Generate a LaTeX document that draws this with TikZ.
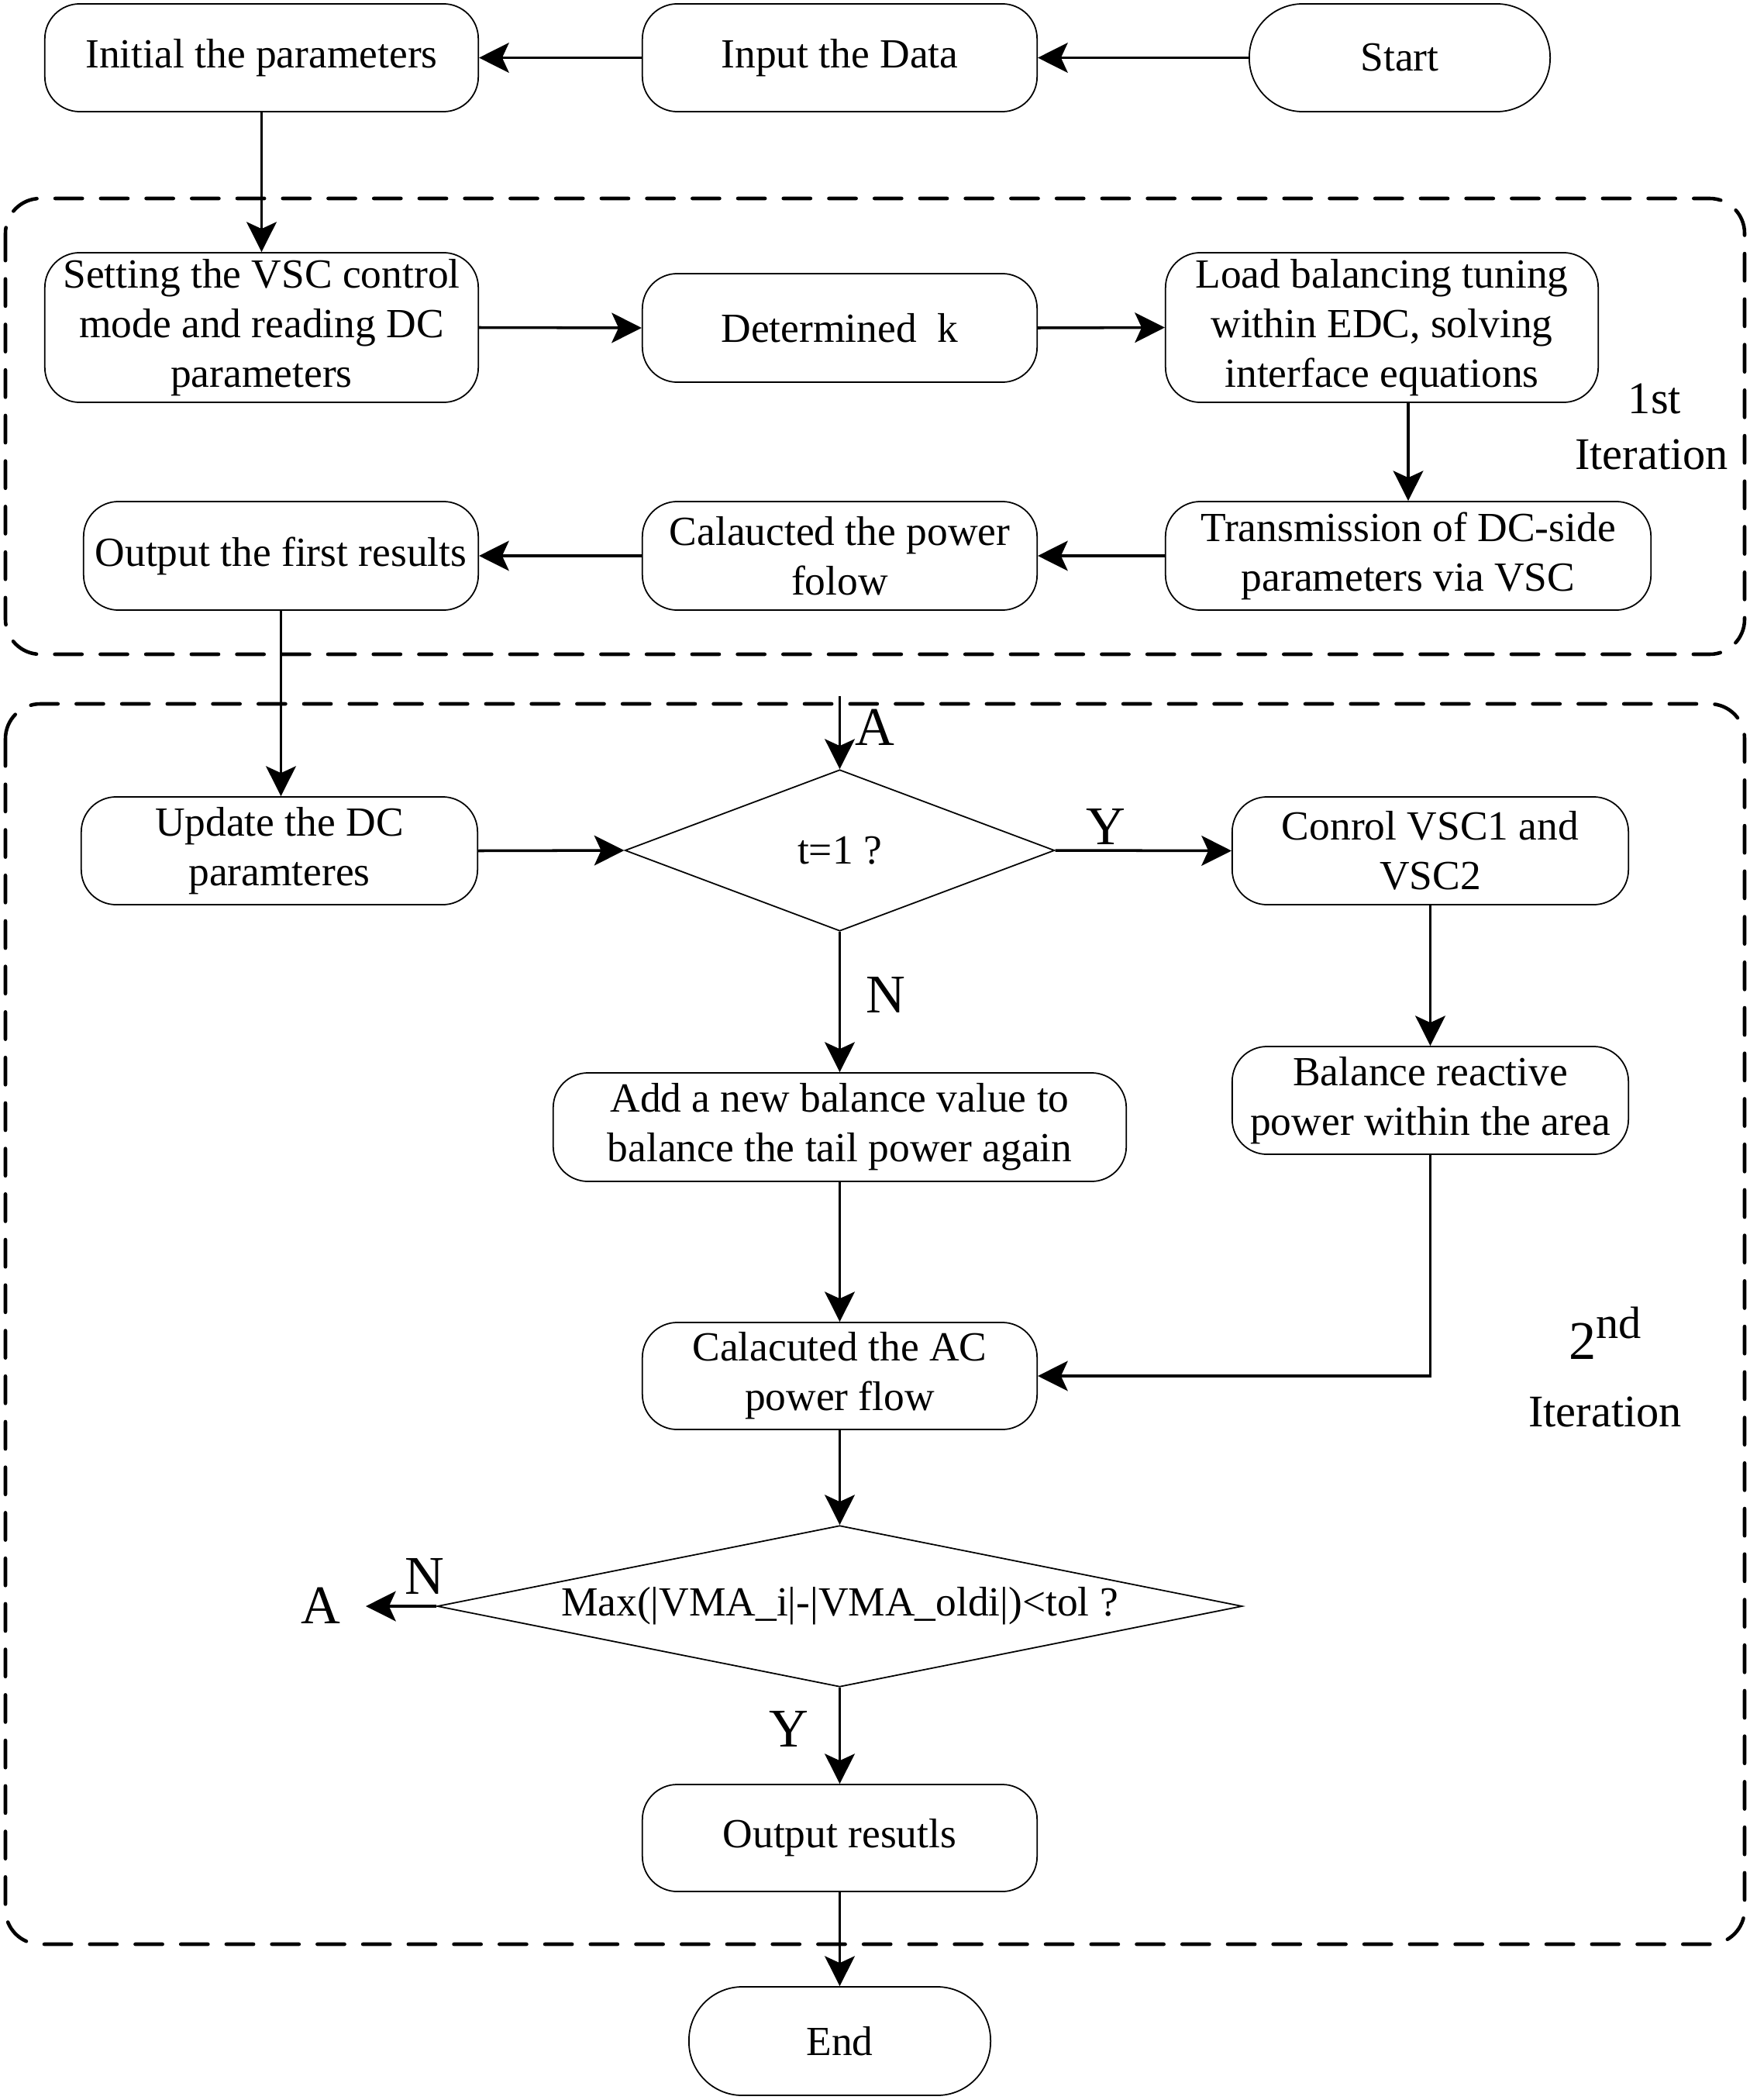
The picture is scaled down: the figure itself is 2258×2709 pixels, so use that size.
\documentclass[tikz,border=0pt]{standalone}
\usepackage{fontspec}
\setmainfont{Liberation Serif}
\usetikzlibrary{arrows.meta,shapes.geometric}
\newcommand\bodyfnt{\fontsize{15.2}{18.2}\selectfont}
\newcommand\labfnt{\fontsize{20}{24}\selectfont}
\newcommand\itfnt{\fontsize{16.6}{20}\selectfont}
\begin{document}
\begin{tikzpicture}[x=0.01cm,y=-0.01cm,
  box/.style={draw, line width=0.5pt, rounded corners=0.45cm, align=center, inner sep=0pt, font=\bodyfnt},
  term/.style={box, rounded corners=0.69cm},
  dec/.style={draw, diamond, line width=0.5pt, inner sep=0pt, align=center, font=\bodyfnt},
  arr/.style={line width=1pt, -{Stealth[length=11pt,width=11pt,inset=2.5pt]}},
  grp/.style={line width=1.3pt, dash pattern=on 10pt off 6.7pt, line cap=round, rounded corners=0.45cm},
  lab/.style={font=\labfnt, inner sep=0pt},
  itl/.style={font=\itfnt, inner sep=0pt}]
\useasboundingbox (0,0) rectangle (2258,2709);

% group frames
\draw[grp] (7,256) rectangle (2251,844);
\draw[grp] (7,908) rectangle (2251,2508);

% row 1
\node[box, minimum width=5.59cm, minimum height=1.39cm] (init) at (337.5,74.5) {Initial the parameters};
\node[box, minimum width=5.09cm, minimum height=1.39cm] (input) at (1083.5,74.5) {Input the Data};
\node[term, minimum width=3.88cm, minimum height=1.39cm] (start) at (1806,74.5) {Start};

% first iteration
\node[box, minimum width=5.59cm, minimum height=1.93cm] (set) at (337.5,422.5) {Setting the VSC control\\mode and reading DC\\parameters};
\node[box, minimum width=5.09cm, minimum height=1.40cm] (det) at (1083.5,423) {Determined~~k};
\node[box, minimum width=5.58cm, minimum height=1.93cm] (load) at (1783,422.5) {Load balancing tuning\\within EDC, solving\\interface equations};
\node[box, minimum width=6.26cm, minimum height=1.40cm] (trans) at (1817,717) {Transmission of DC-side\\parameters via VSC};
\node[box, minimum width=5.09cm, minimum height=1.40cm] (calp) at (1083.5,717) {Calaucted the power\\folow};
\node[box, minimum width=5.09cm, minimum height=1.40cm] (outf) at (362.5,717) {Output the first results};

\node[itl, anchor=base] at (2135,533) {1st};
\node[itl, anchor=base] at (2131,605) {Iteration};

% second iteration
\node[box, minimum width=5.11cm, minimum height=1.39cm] (upd) at (360.5,1097.5) {Update the DC\\paramteres};
\node[dec, minimum width=5.54cm, minimum height=2.08cm, aspect=2.66] (d1) at (1083.5,1097) {t=1 ?};
\node[box, minimum width=5.11cm, minimum height=1.39cm] (conr) at (1845.5,1097.5) {Conrol VSC1 and\\VSC2};
\node[box, minimum width=5.11cm, minimum height=1.39cm] (bal) at (1845.5,1419.5) {Balance reactive\\power within the area};
\node[box, minimum width=7.39cm, minimum height=1.40cm] (add) at (1083.5,1454) {Add a new balance value to\\balance the tail power again};
\node[box, minimum width=5.09cm, minimum height=1.38cm] (calac) at (1083.5,1775) {Calacuted the AC\\power flow};
\node[dec, minimum width=10.38cm, minimum height=2.08cm, aspect=5] (d2) at (1083.5,2072) {Max(|VMA\_i|-|VMA\_oldi|)<tol ?};
\node[box, minimum width=5.09cm, minimum height=1.38cm] (outr) at (1083.5,2371) {Output resutls};
\node[term, minimum width=3.89cm, minimum height=1.40cm] (endn) at (1083.5,2633) {End};

\node[itl, anchor=base] (two) at (2072,1753) {\labfnt 2\textsuperscript{\itfnt nd}};
\node[itl, anchor=base] at (2071,1840) {Iteration};

% connectors
\draw[arr] (start.west) -- (input.east);
\draw[arr] (input.west) -- (init.east);
\draw[arr] (init.south) -- (set.north);
\draw[arr] (set.east) -- (det.west);
\draw[arr] (det.east) -- (load.west);
\draw[arr] (trans.north |- load.south) -- (trans.north);
\draw[arr] (trans.west) -- (calp.east);
\draw[arr] (calp.west) -- (outf.east);
\draw[arr] (outf.south) -- (outf.south |- upd.north);
\draw[arr] (upd.east) -- (d1.west);
\coordinate (aT) at (1083.5,898);
\draw[arr] (aT) -- (d1.north);
\draw[arr] (d1.east) -- (conr.west);
\draw[arr] (d1.south) -- (add.north);
\draw[arr] (conr.south) -- (bal.north);
\draw[arr] (add.south) -- (calac.north);
\draw[arr] (bal.south) |- (calac.east);
\draw[arr] (calac.south) -- (d2.north);
\coordinate (aN) at (472,2072);
\draw[arr] (d2.west) -- (aN);
\draw[arr] (d2.south) -- (outr.north);
\draw[arr] (outr.south) -- (endn.north);

% branch labels
\node[lab] at (1129,938) {A};
\node[lab] at (1427,1066) {Y};
\node[lab] at (1143,1283) {N};
\node[lab] at (548,2033) {N};
\node[lab] at (414,2071) {A};
\node[lab] at (1018,2230) {Y};
\end{tikzpicture}
\end{document}
